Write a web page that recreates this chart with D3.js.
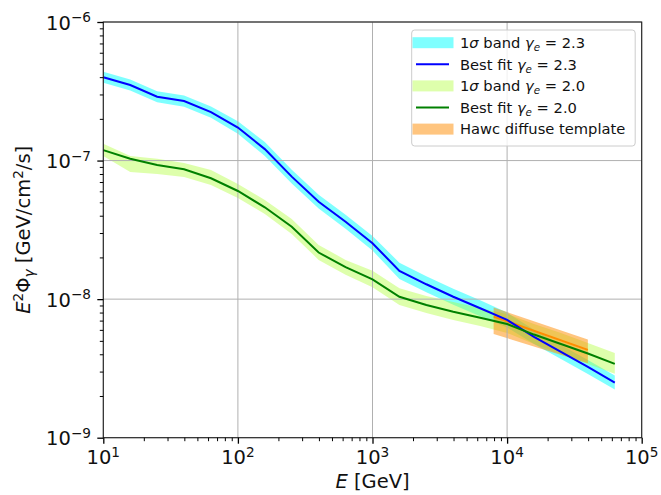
<!DOCTYPE html>
<html>
<head>
<meta charset="utf-8">
<script src="https://cdn.jsdelivr.net/npm/d3@7"></script>
<style>
  body { margin: 0; background: #fff; }
  svg { display: block; font-family: "DejaVu Sans", sans-serif; }
  .tick text { display: none; }
</style>
</head>
<body>
<svg id="chart" width="661" height="495"></svg>
<script>
// energy grid [GeV]
const energy = [10, 15.85, 25.12, 39.81, 63.1, 100, 158.5, 251.2, 398.1, 631, 1000,
  1585, 2512, 3981, 6310, 10000, 15850, 25120, 39810, 63100];

// gamma_e = 2.3
const fit23 = [3.99e-7, 3.51e-7, 2.89e-7, 2.69e-7, 2.24e-7, 1.73e-7, 1.21e-7, 7.66e-8, 5.05e-8, 3.62e-8,
  2.53e-8, 1.60e-8, 1.28e-8, 1.04e-8, 8.59e-9, 7.08e-9, 5.34e-9, 4.16e-9, 3.24e-9, 2.50e-9];
const band23Hi = [4.37e-7, 3.85e-7, 3.17e-7, 2.95e-7, 2.46e-7, 1.92e-7, 1.36e-7, 8.6e-8, 5.67e-8, 4.07e-8,
  2.86e-8, 1.83e-8, 1.46e-8, 1.19e-8, 9.8e-9, 8.0e-9, 6.0e-9, 4.67e-9, 3.64e-9, 2.81e-9];
const band23Lo = [3.64e-7, 3.20e-7, 2.64e-7, 2.45e-7, 2.04e-7, 1.56e-7, 1.08e-7, 6.82e-8, 4.50e-8, 3.22e-8,
  2.24e-8, 1.40e-8, 1.12e-8, 9.1e-9, 7.52e-9, 6.25e-9, 4.75e-9, 3.70e-9, 2.88e-9, 2.23e-9];

// gamma_e = 2.0
const fit20 = [1.19e-7, 1.03e-7, 9.30e-8, 8.65e-8, 7.45e-8, 6.03e-8, 4.60e-8, 3.33e-8, 2.17e-8, 1.70e-8,
  1.39e-8, 1.04e-8, 9.08e-9, 8.12e-9, 7.35e-9, 6.62e-9, 5.55e-9, 4.75e-9, 4.05e-9, 3.41e-9];
const band20Hi = [1.32e-7, 1.08e-7, 1.03e-7, 9.62e-8, 8.55e-8, 6.78e-8, 5.2e-8, 3.79e-8, 2.46e-8, 1.92e-8,
  1.60e-8, 1.20e-8, 1.055e-8, 9.55e-9, 8.63e-9, 7.81e-9, 6.62e-9, 5.70e-9, 4.83e-9, 4.09e-9];
const band20Lo = [1.08e-7, 8.28e-8, 8.0e-8, 7.62e-8, 6.67e-8, 5.37e-8, 4.12e-8, 2.95e-8, 1.92e-8, 1.50e-8,
  1.22e-8, 9.08e-9, 7.94e-9, 7.08e-9, 6.41e-9, 5.70e-9, 4.75e-9, 4.02e-9, 3.41e-9, 2.89e-9];

// HAWC diffuse template
const hawcE = [7943, 39810];
const hawcFlux = [7.48e-9, 4.30e-9];
const hawcHi = [8.7e-9, 5.12e-9];
const hawcLo = [5.61e-9, 3.44e-9];

const xMajor = [10, 100, 1000, 10000, 100000];
const xExp = ['1', '2', '3', '4', '5'];
const yMajor = [1e-6, 1e-7, 1e-8, 1e-9];
const yExp = ['\u22126', '\u22127', '\u22128', '\u22129'];

const legendRows = [
  { kind: 'band', color: 'cyan', opacity: 0.5, val: '2.3', sigma: true },
  { kind: 'line', color: 'blue', val: '2.3' },
  { kind: 'band', color: 'greenyellow', opacity: 0.4, val: '2.0', sigma: true },
  { kind: 'line', color: 'green', val: '2.0' },
  { kind: 'band', color: 'darkorange', opacity: 0.5, label: 'Hawc diffuse template' }
];

const plotL = 103.3, plotR = 641.7, plotT = 22, plotB = 437.7;
const svg = d3.select('#chart');

const x = d3.scaleLog().domain([10, 1e5]).range([plotL, plotR]);
const y = d3.scaleLog().domain([1e-9, 1e-6]).range([plotB, plotT]);

const minorOf = (lo, hi) => {
  const out = [];
  for (let p = lo; p < hi * 0.999; p *= 10) {
    for (let m = 2; m <= 9; m++) out.push(m * p);
  }
  return out;
};

const area = (hi, lo, xs) => d3.area()
  .x((d, i) => x(xs[i]))
  .y0((d, i) => y(lo[i]))
  .y1((d, i) => y(hi[i]))(hi);

const line = (vals, xs) => d3.line()
  .x((d, i) => x(xs[i]))
  .y(d => y(d))(vals);

// bands
svg.append('path').attr('d', area(band23Hi, band23Lo, energy))
  .attr('fill', 'cyan').attr('fill-opacity', 0.5);
svg.append('path').attr('d', area(band20Hi, band20Lo, energy))
  .attr('fill', 'greenyellow').attr('fill-opacity', 0.4);
svg.append('path').attr('d', area(hawcHi, hawcLo, hawcE))
  .attr('fill', 'darkorange').attr('fill-opacity', 0.5);

// grid sits above the bands, below the lines
const grid = svg.append('g').attr('stroke', '#b0b0b0').attr('stroke-width', 1);
grid.selectAll('.gx').data(xMajor).enter().append('line')
  .attr('x1', d => x(d)).attr('x2', d => x(d)).attr('y1', plotT).attr('y2', plotB);
grid.selectAll('.gy').data(yMajor).enter().append('line')
  .attr('y1', d => y(d)).attr('y2', d => y(d)).attr('x1', plotL).attr('x2', plotR);

// lines
svg.append('path').attr('d', line(hawcFlux, hawcE))
  .attr('fill', 'none').attr('stroke', 'darkorange').attr('stroke-width', 2);
svg.append('path').attr('d', line(fit23, energy))
  .attr('fill', 'none').attr('stroke', 'blue').attr('stroke-width', 2);
svg.append('path').attr('d', line(fit20, energy))
  .attr('fill', 'none').attr('stroke', 'green').attr('stroke-width', 2);

// frame
svg.append('rect')
  .attr('x', plotL).attr('y', plotT)
  .attr('width', plotR - plotL).attr('height', plotB - plotT)
  .attr('fill', 'none').attr('stroke', '#222').attr('stroke-width', 1.1);

// axes: major + minor ticks
const styleAxis = g => g.select('.domain').remove();
svg.append('g').attr('transform', `translate(0,${plotB})`)
  .call(d3.axisBottom(x).tickValues(xMajor).tickSize(6).tickFormat(() => ''))
  .call(styleAxis).selectAll('line').attr('stroke-width', 1.3);
svg.append('g').attr('transform', `translate(0,${plotB})`)
  .call(d3.axisBottom(x).tickValues(minorOf(10, 1e5)).tickSize(3.5).tickFormat(() => ''))
  .call(styleAxis).selectAll('line').attr('stroke-width', 1);
svg.append('g').attr('transform', `translate(${plotL},0)`)
  .call(d3.axisLeft(y).tickValues(yMajor).tickSize(6).tickFormat(() => ''))
  .call(styleAxis).selectAll('line').attr('stroke-width', 1.3);
svg.append('g').attr('transform', `translate(${plotL},0)`)
  .call(d3.axisLeft(y).tickValues(minorOf(1e-9, 1e-6)).tickSize(3.5).tickFormat(() => ''))
  .call(styleAxis).selectAll('line').attr('stroke-width', 1);

const fs = 19.5;

// x tick labels
xMajor.forEach((v, i) => {
  const t = svg.append('text')
    .attr('x', x(v)).attr('y', 464)
    .attr('text-anchor', 'middle').attr('font-size', fs).attr('fill', '#111');
  t.append('tspan').text('10');
  t.append('tspan').attr('dy', -7.5).attr('font-size', fs * 0.7).text(xExp[i]);
});

// y tick labels
yMajor.forEach((v, i) => {
  const t = svg.append('text')
    .attr('x', 91).attr('y', y(v) + 7.5)
    .attr('text-anchor', 'end').attr('font-size', fs).attr('fill', '#111');
  t.append('tspan').text('10');
  t.append('tspan').attr('dy', -7.5).attr('font-size', fs * 0.7).text(yExp[i]);
});

// axis titles
const xl = svg.append('text')
  .attr('x', (plotL + plotR) / 2).attr('y', 488)
  .attr('text-anchor', 'middle').attr('font-size', fs).attr('fill', '#111');
xl.append('tspan').attr('font-style', 'italic').text('E');
xl.append('tspan').text(' [GeV]');

const yl = svg.append('text')
  .attr('transform', `translate(30,${(plotT + plotB) / 2}) rotate(-90)`)
  .attr('text-anchor', 'middle').attr('font-size', fs).attr('fill', '#111');
yl.append('tspan').attr('font-style', 'italic').text('E');
yl.append('tspan').attr('dy', -7.5).attr('font-size', fs * 0.7).text('2');
yl.append('tspan').attr('dy', 7.5).text('\u03A6');
yl.append('tspan').attr('dy', 4).attr('font-size', fs * 0.7).attr('font-style', 'italic').text('\u03B3');
yl.append('tspan').attr('dy', -4).text(' [GeV/cm');
yl.append('tspan').attr('dy', -7.5).attr('font-size', fs * 0.7).text('2');
yl.append('tspan').attr('dy', 7.5).text('/s]');

// legend
const lg = svg.append('g');
lg.append('rect')
  .attr('x', 411.7).attr('y', 30).attr('width', 223.5).attr('height', 116)
  .attr('rx', 3).attr('fill', '#fff').attr('fill-opacity', 0.8)
  .attr('stroke', '#cccccc').attr('stroke-width', 1);

const lfs = 14.7;
legendRows.forEach((r, i) => {
  const cy = 42.7 + i * 21.6;
  if (r.kind === 'band') {
    lg.append('rect')
      .attr('x', 412.5).attr('y', cy - 5.5).attr('width', 41).attr('height', 11)
      .attr('fill', r.color).attr('fill-opacity', r.opacity);
  } else {
    lg.append('line')
      .attr('x1', 416).attr('x2', 449).attr('y1', cy).attr('y2', cy)
      .attr('stroke', r.color).attr('stroke-width', 2);
  }
  const t = lg.append('text')
    .attr('x', 460).attr('y', cy + 5.3)
    .attr('font-size', lfs).attr('fill', '#111');
  if (r.label) {
    t.text(r.label);
    return;
  }
  if (r.sigma) {
    t.append('tspan').text('1');
    t.append('tspan').attr('font-style', 'italic').text('\u03C3');
    t.append('tspan').text(' band ');
  } else {
    t.append('tspan').text('Best fit ');
  }
  t.append('tspan').attr('font-style', 'italic').text('\u03B3');
  t.append('tspan').attr('dy', 3).attr('font-size', lfs * 0.7).attr('font-style', 'italic').text('e');
  t.append('tspan').attr('dy', -3).text(' = ' + r.val);
});
</script>
</body>
</html>
